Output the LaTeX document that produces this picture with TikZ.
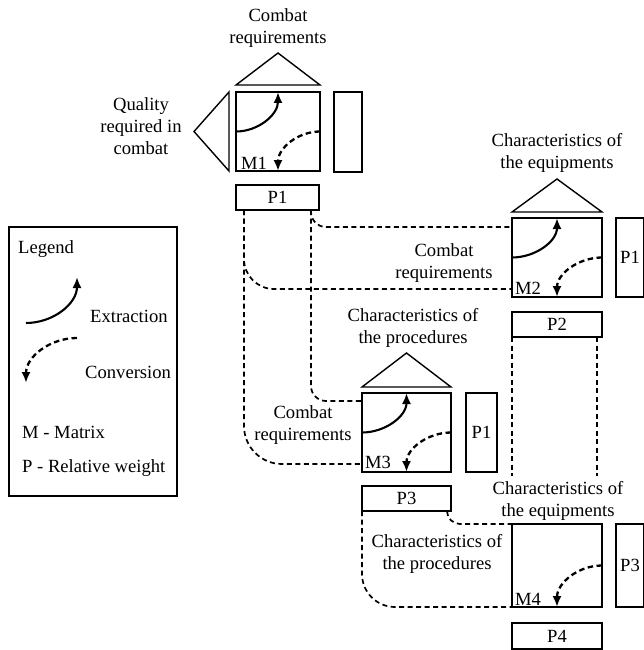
\documentclass[tikz,border=0pt]{standalone}
\usepackage{fontspec}
\setmainfont{Liberation Serif}
\usetikzlibrary{arrows.meta}
\begin{document}
\begin{tikzpicture}[x=1pt,y=-1pt,
  every node/.style={font=\fontsize{18.6}{22}\selectfont},
  mbox/.style={draw, line width=1.9pt, inner sep=0pt, outer sep=0pt},
  tri/.style={draw, line width=1.4pt, line join=miter},
  conn/.style={draw, line width=1.7pt, dash pattern=on 5pt off 3.5pt},
  extr/.style={line width=2.1pt, -{Latex[length=11pt,width=9pt]}},
  conv/.style={line width=2.3pt, dash pattern=on 5.5pt off 3.5pt, -{Latex[length=11pt,width=9pt]}},
  lbl/.style={align=center, inner sep=0pt},
  mlab/.style={anchor=base west, inner sep=0pt},
  leg/.style={anchor=base west, inner sep=0pt}]
\useasboundingbox (0,0) rectangle (643,650);

% ---------- M1 ----------
\node[mbox, minimum width=84, minimum height=79] (M1) at (278,131.5) {};
\node[mbox, minimum width=28, minimum height=80] (R1) at (348,132) {};
\node[mbox, minimum width=83, minimum height=25] (P1) at (277.5,197.5) {P1};
\draw[tri] ([yshift=7]M1.north west) -- ([yshift=39]M1.north) -- ([yshift=7]M1.north east) -- cycle;
\draw[tri] ([xshift=-7]M1.north west) -- ([xshift=-42]M1.west) -- ([xshift=-7]M1.south west) -- cycle;
\draw[extr] (M1.west) to[out=0,in=-90] (M1.north);
\draw[conv] (M1.east) to[out=180,in=90] (M1.south);
\node[mlab] at ([xshift=5,yshift=1.5]M1.south west) {M1};
\node[lbl] (t1) at (278,28) {Combat\\requirements};
\node[lbl] (t2) at (141,126) {Quality\\required in\\combat};

% ---------- M2 ----------
\node[mbox, minimum width=90, minimum height=79] (M2) at (557,257.5) {};
\node[mbox, minimum width=28, minimum height=79] (R2) at (630,257.5) {P1};
\node[mbox, minimum width=90, minimum height=25] (P2) at (557,324.5) {P2};
\draw[tri] ([yshift=6]M2.north west) -- ([yshift=39]M2.north) -- ([yshift=6]M2.north east) -- cycle;
\draw[extr] (M2.west) to[out=0,in=-90] (M2.north);
\draw[conv] (M2.east) to[out=180,in=90] (M2.south);
\node[mlab] at ([xshift=3,yshift=3]M2.south west) {M2};
\node[lbl] (t3) at (557,153) {Characteristics of\\the equipments};
\node[lbl] (t4) at (444,263) {Combat\\requirements};

% ---------- M3 ----------
\node[mbox, minimum width=89, minimum height=79] (M3) at (406.5,432.5) {};
\node[mbox, minimum width=31, minimum height=79] (R3) at (481.5,432.5) {P1};
\node[mbox, minimum width=89, minimum height=25] (P3) at (406.5,498.5) {P3};
\draw[tri] ([yshift=6]M3.north west) -- ([yshift=40]M3.north) -- ([yshift=6]M3.north east) -- cycle;
\draw[extr] (M3.west) to[out=0,in=-90] (M3.north);
\draw[conv] (M3.east) to[out=180,in=90] (M3.south);
\node[mlab] at ([xshift=3,yshift=4]M3.south west) {M3};
\node[lbl] (t5) at (413,328) {Characteristics of\\the procedures};
\node[lbl] (t6) at (303,425) {Combat\\requirements};

% ---------- M4 ----------
\node[mbox, minimum width=90, minimum height=83] (M4) at (557,565.5) {};
\node[mbox, minimum width=28, minimum height=83] (R4) at (630,565.5) {P3};
\node[mbox, minimum width=90, minimum height=26] (P4) at (557,636) {P4};
\draw[conv] (M4.east) to[out=180,in=90] (M4.south);
\node[mlab] at ([xshift=3,yshift=1.5]M4.south west) {M4};
\node[lbl] (t7) at (558,501) {Characteristics of\\the equipments};
\node[lbl] (t8) at (437,554) {Characteristics of\\the procedures};

% ---------- dashed connectors ----------
\draw[conn, rounded corners=15] ([xshift=-8]P1.south east) |- ([yshift=-9]M2.north west);
\draw[conn, rounded corners=30] ([xshift=8]P1.south west) |- ([yshift=8]M2.south west);
\draw[conn, rounded corners=15] ([xshift=-8]P1.south east) |- ([yshift=-8]M3.north west);
\draw[conn, rounded corners=38] ([xshift=8]P1.south west) |- ([yshift=8]M3.south west);
\draw[conn, rounded corners=13] ([xshift=-4]P3.south east) |- (M4.north west);
\draw[conn, rounded corners=33] (P3.south west) |- (M4.south west);
\coordinate (e1) at (512,476);
\coordinate (e2) at (597,476);
\draw[conn] (P2.south west) -- (e1);
\draw[conn] ([xshift=-5]P2.south east) -- (e2);

% ---------- legend ----------
\node[mbox, minimum width=168, minimum height=269] (L) at (93,361.5) {};
\node[leg] (lg) at (18,253) {Legend};
\coordinate (xa) at (26,323);
\coordinate (xb) at (77,277);
\coordinate (ca) at (77,338);
\coordinate (cb) at (26,383);
\draw[extr] (xa) to[out=0,in=-90] (xb);
\draw[conv] (ca) to[out=180,in=90] (cb);
\node[leg] (le) at (90,322) {Extraction};
\node[leg] (lc) at (85,378) {Conversion};
\node[leg] (lm) at (22,438) {M - Matrix};
\node[leg] (lp) at (22,472) {P - Relative weight};
\end{tikzpicture}
\end{document}
